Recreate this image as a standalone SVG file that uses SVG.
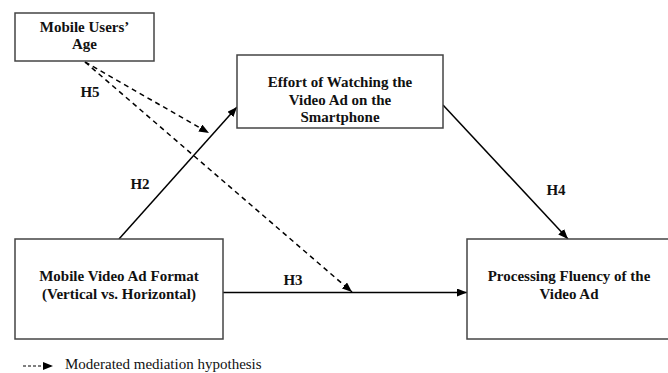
<svg xmlns="http://www.w3.org/2000/svg" width="668" height="373" viewBox="0 0 668 373">
<defs>
<marker id="ah" markerWidth="10" markerHeight="8" refX="10" refY="4" orient="auto" markerUnits="userSpaceOnUse">
<path d="M0,0 L10,4 L0,8 Z" fill="#000"/>
</marker>
<style>
.box{fill:#fff;stroke:#444;stroke-width:1.5}
.t{font-family:"Liberation Serif","Times New Roman",serif;font-weight:bold;font-size:15px;fill:#111;text-anchor:middle}
.lbl{font-family:"Liberation Serif","Times New Roman",serif;font-weight:bold;font-size:15px;fill:#111;text-anchor:middle}
.solid{stroke:#000;stroke-width:1.5;fill:none;marker-end:url(#ah)}
.dash{stroke:#000;stroke-width:1.5;fill:none;stroke-dasharray:5,4;marker-end:url(#ah)}
.leg{font-family:"Liberation Serif","Times New Roman",serif;font-size:15px;fill:#111}
</style>
</defs>
<rect width="668" height="373" fill="#fff"/>
<g id="connectors">
<line class="solid" x1="119" y1="239" x2="237" y2="107"/>
<line class="solid" x1="443" y1="105" x2="568" y2="239"/>
<line class="solid" x1="223" y1="292.5" x2="467" y2="292.5"/>
<line class="dash" x1="85" y1="62" x2="209" y2="133"/>
<line class="dash" x1="85" y1="62" x2="352" y2="292"/>
<text class="lbl" x="90" y="97">H5</text>
<text class="lbl" x="140" y="189">H2</text>
<text class="lbl" x="556" y="195">H4</text>
<text class="lbl" x="293" y="285">H3</text>
</g>
<g id="age">
<rect class="box" x="15" y="13" width="139" height="48"/>
<text class="t" x="84.5" y="32">Mobile Users’</text>
<text class="t" x="84.5" y="49">Age</text>
</g>
<g id="effort">
<rect class="box" x="237" y="55" width="206" height="73"/>
<text class="t" x="340" y="87">Effort of Watching the</text>
<text class="t" x="340" y="105">Video Ad on the</text>
<text class="t" x="340" y="122">Smartphone</text>
</g>
<g id="format">
<rect class="box" x="15" y="239" width="208" height="100"/>
<text class="t" x="119" y="281">Mobile Video Ad Format</text>
<text class="t" x="119" y="299">(Vertical vs. Horizontal)</text>
</g>
<g id="fluency">
<rect class="box" x="467" y="239" width="210" height="100"/>
<text class="t" x="569" y="281">Processing Fluency of the</text>
<text class="t" x="569" y="299">Video Ad</text>
</g>
<g id="legend">
<line x1="23" y1="366" x2="53" y2="366" stroke="#000" stroke-width="1" stroke-dasharray="3,2" marker-end="url(#ah)"/>
<text class="leg" x="65" y="369">Moderated mediation hypothesis</text>
</g>
</svg>
